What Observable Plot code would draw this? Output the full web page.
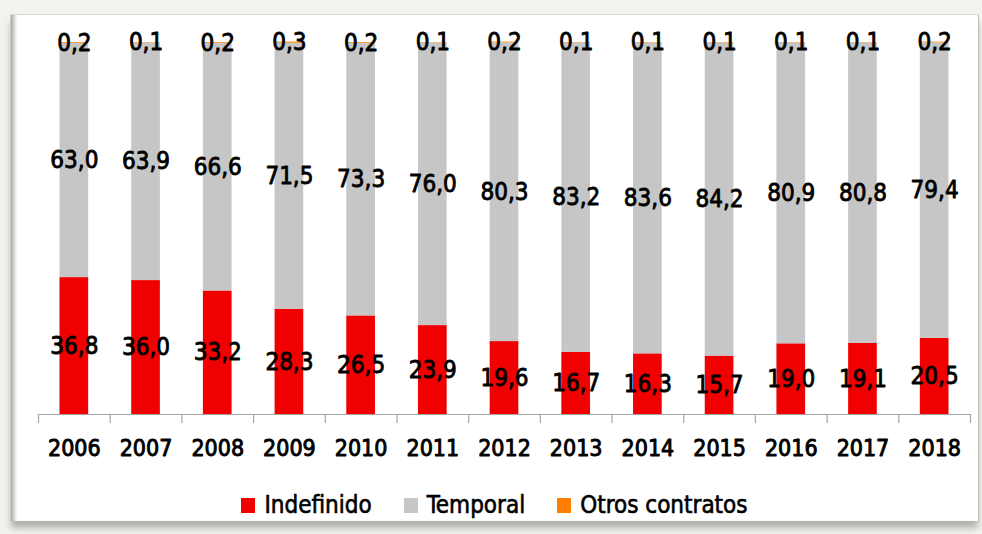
<!DOCTYPE html>
<html><head><meta charset="utf-8">
<script src="https://cdn.jsdelivr.net/npm/d3@7"></script>
<script src="https://cdn.jsdelivr.net/npm/@observablehq/plot@0.6"></script>
<style>
html,body{margin:0;padding:0;background:#f4f2ee;width:982px;height:534px;overflow:hidden;}
#frame{position:absolute;left:10px;top:14px;width:967px;height:506px;background:#fff;
  border-top:1px solid #d9d9d9;border-right:1px solid #bdbdbd;border-left:1px solid #c8c8c8;
  box-shadow: inset 6px 0 4px -3px #a8a8a8, 0 8px 7px -1px rgba(0,0,0,0.28);}
#chart{position:absolute;left:-1px;top:0;}
#legend{position:absolute;left:0;right:0;top:476px;display:flex;justify-content:center;align-items:center;
  font-family:"DejaVu Sans Condensed","DejaVu Sans",sans-serif;font-stretch:condensed;font-size:24px;color:#000;
  -webkit-text-stroke:0.6px #000;}
.item{display:flex;align-items:center;margin:0 16px;}
.sw{width:14px;height:15px;margin-right:9px;}
</style></head>
<body>
<div id="frame"><div id="chart"></div><div id="legend"></div></div>
<script>
const years = [2006,2007,2008,2009,2010,2011,2012,2013,2014,2015,2016,2017,2018];
const indefinido = [36.8,36.0,33.2,28.3,26.5,23.9,19.6,16.7,16.3,15.7,19.0,19.1,20.5];
const temporal = [63.0,63.9,66.6,71.5,73.3,76.0,80.3,83.2,83.6,84.2,80.9,80.8,79.4];
const otros = [0.2,0.1,0.2,0.3,0.2,0.1,0.2,0.1,0.1,0.1,0.1,0.1,0.2];
const types = ["Indefinido","Temporal","Otros contratos"];
const colors = ["#f00000","#c6c6c6","#ff8000"];

const series = [indefinido, temporal, otros];
const data = [];
years.forEach((yr, i) => {
  types.forEach((t, k) => data.push({year: yr, type: t, value: series[k][i]}));
});
const fmt = v => v.toFixed(1).replace(".", ",");

const W = 968, H = 460, ML = 28, MR = 8, MT = 27, MB = 61;
const step = (W - ML - MR) / years.length;
const font = '"DejaVu Sans Condensed","DejaVu Sans",sans-serif';

const chart = Plot.plot({
  width: W, height: H,
  marginLeft: ML, marginRight: MR, marginTop: MT, marginBottom: MB,
  style: {fontFamily: font, fontStretch: "condensed", background: "transparent", overflow: "visible"},
  x: {type: "band", domain: years, paddingInner: 0.6, paddingOuter: 0.3, round: false, axis: null},
  y: {domain: [0, 100], axis: null},
  color: {domain: types, range: colors},
  marks: [
    Plot.barY(data, {x: "year", y: "value", fill: "type"}),
    Plot.ruleY([0], {stroke: "#a6a6a6", strokeWidth: 1.2}),
    Plot.ruleX(years, {x: d => d, y1: 0, y2: 0, dx: -step / 2, insetBottom: -9, stroke: "#a6a6a6", strokeWidth: 1.2}),
    Plot.ruleX([years[years.length - 1]], {x: d => d, y1: 0, y2: 0, dx: step / 2, insetBottom: -9, stroke: "#a6a6a6", strokeWidth: 1.2}),
    Plot.text(data, Plot.stackY({x: "year", y: "value", z: "type", text: d => fmt(d.value),
      fontSize: 24, fill: "#000", stroke: "#000", strokeWidth: 0.8, lineAnchor: "middle"})),
    Plot.text(years, {x: d => d, y: () => 0, dy: 34, text: d => String(d), fontSize: 23,
      fill: "#000", stroke: "#000", strokeWidth: 0.9, lineAnchor: "middle"})
  ]
});
document.getElementById("chart").appendChild(chart);

const legend = document.getElementById("legend");
types.forEach((t, k) => {
  const it = document.createElement("div");
  it.className = "item";
  const sw = document.createElement("div");
  sw.className = "sw";
  sw.style.background = colors[k];
  const lb = document.createElement("span");
  lb.textContent = t;
  it.appendChild(sw); it.appendChild(lb);
  legend.appendChild(it);
});
</script>
</body></html>
